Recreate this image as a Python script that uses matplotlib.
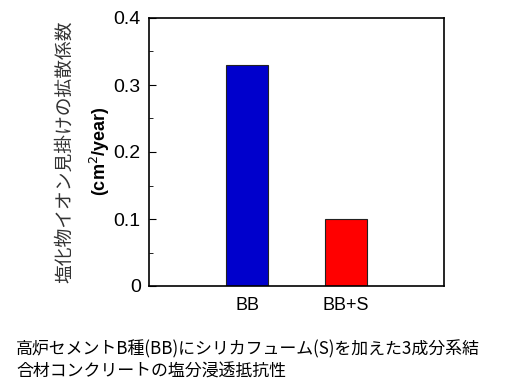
import matplotlib
matplotlib.use("Agg")
import matplotlib.pyplot as plt
from matplotlib.ticker import FuncFormatter, MultipleLocator

categories = ["BB", "BB+S"]
values = [0.33, 0.10]
colors = ["#0000CC", "#FF0000"]
yticks = [0, 0.1, 0.2, 0.3, 0.4]
ylabel_line1 = "塩化物イオン見掛けの拡散係数"
ylabel_line2 = "(cm$^2$/year)"
caption = "高炉セメントB種(BB)にシリカフューム(S)を加えた3成分系結\n合材コンクリートの塩分浸透抵抗性"

W, H = 527, 390
fig = plt.figure(figsize=(W / 100, H / 100), dpi=100)
ax = fig.add_axes([149 / W, 1 - 286 / H, (444 - 149) / W, (286 - 18) / H])

pos = [1, 2]
ax.bar(pos, values, width=0.43, color=colors, edgecolor="#222222", linewidth=0.8)
ax.set_xlim(0, 3)
ax.set_ylim(0, 0.4)
ax.set_xticks(pos)
ax.set_xticklabels(categories, fontsize=13, family="Liberation Sans")
ax.tick_params(axis="x", length=0, pad=8)
ax.set_yticks(yticks)
ax.yaxis.set_minor_locator(MultipleLocator(0.05))
ax.yaxis.set_major_formatter(FuncFormatter(lambda v, p: "0" if v == 0 else f"{v:.1f}"))
ax.tick_params(axis="y", which="major", direction="in", length=5, labelsize=14, pad=6)
ax.tick_params(axis="y", which="minor", direction="in", length=3)
for lab in ax.get_yticklabels():
    lab.set_family("Liberation Sans")
for s in ax.spines.values():
    s.set_linewidth(1.2)

fig.text(65 / W, 1 - 152 / H, ylabel_line1, rotation=90, ha="center", va="center",
         fontsize=13.5, color="#333333", family=["Noto Sans CJK JP", "DejaVu Sans"])
fig.text(100 / W, 1 - 151 / H, ylabel_line2, rotation=90, ha="center", va="center",
         fontsize=13, fontweight="bold", family="Liberation Sans")

fig.text(16 / W, 1 - 360 / H, caption, ha="left", va="center", fontsize=12.2,
         linespacing=1.3, family=["Noto Sans CJK JP", "DejaVu Sans"])

fig.savefig("out.png", dpi=100)
